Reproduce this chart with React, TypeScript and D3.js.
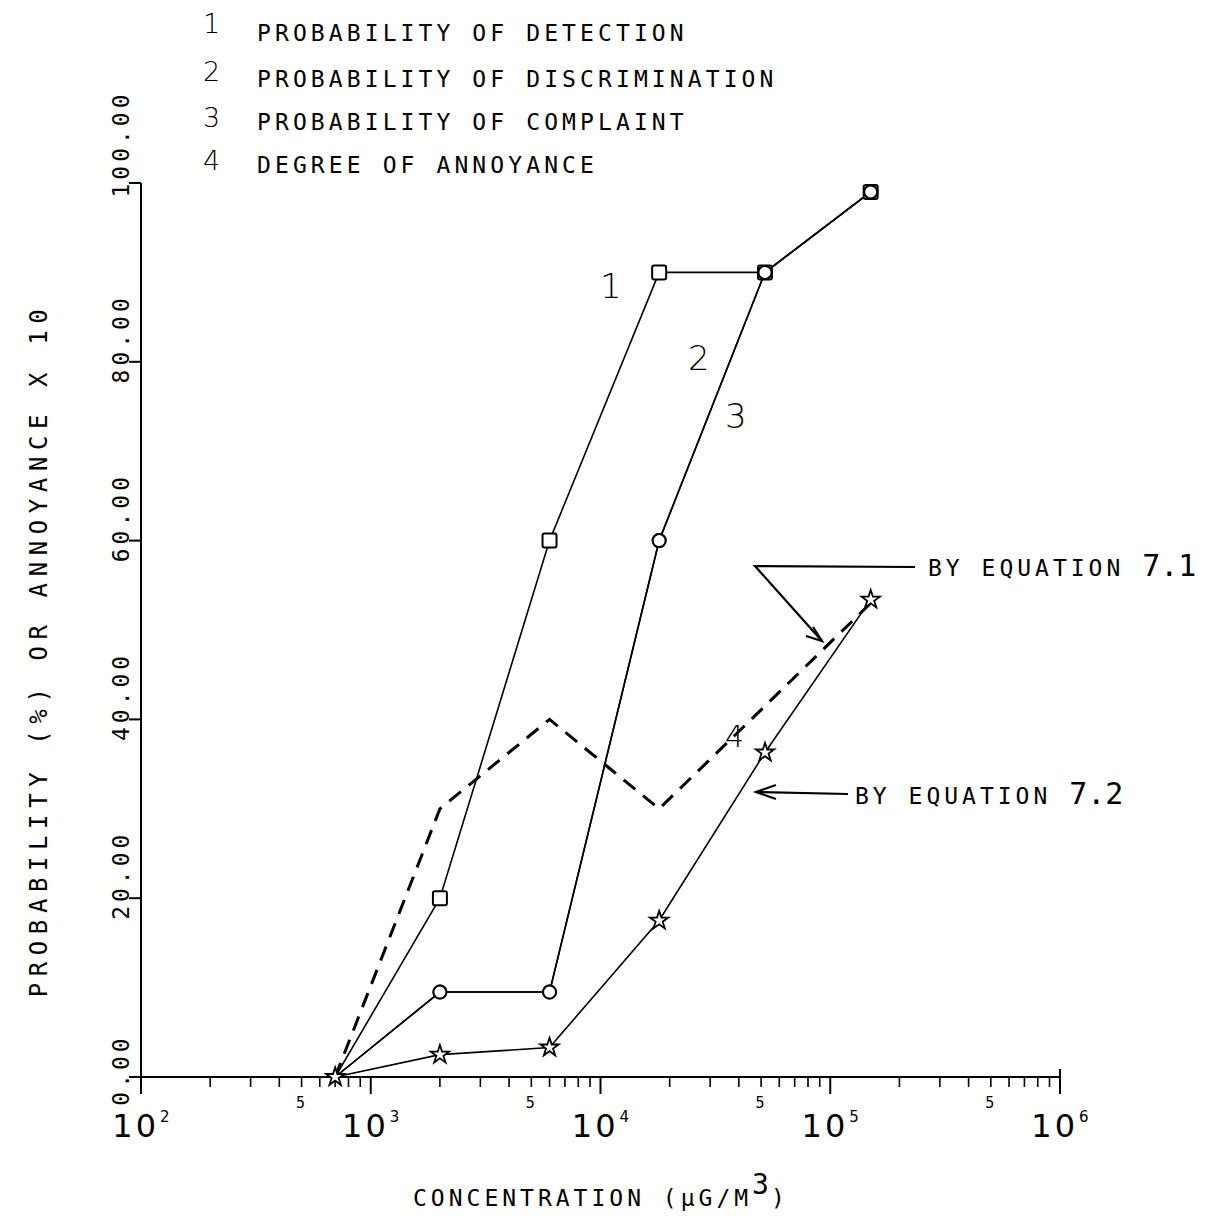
import React from "react";
import * as d3 from "d3";

// Concentrations (µg/m³) at which the responses were evaluated
const concentrations = [700, 2000, 6000, 18000, 52000, 150000];

// 1 Probability of detection (%)
const detection = [0, 20, 60, 90, 90, 99];
// 2 Probability of discrimination (%)
const discrimination = [0, 9.5, 9.5, 60, 90, 99];
// 3 Probability of complaint (%)
const complaint = [0, 9.5, 9.5, 60, 90, 99];
// 4 Degree of annoyance x 10, by equation 7.2
const annoyance = [0, 2.5, 3.3, 17.5, 36.3, 53.4];
// Degree of annoyance x 10, by equation 7.1 (dashed)
const annoyanceEq71 = [0, 30, 40, 30, 41.5, 53];

const yTicks = [0, 20, 40, 60, 80, 100];
const yTickLabels = ["0.00", "20.00", "40.00", "60.00", "80.00", "100.00"];
const xDecades = [2, 3, 4, 5, 6];
const legendItems = [
  "PROBABILITY OF DETECTION",
  "PROBABILITY OF DISCRIMINATION",
  "PROBABILITY OF COMPLAINT",
  "DEGREE OF ANNOYANCE",
];

const W = 1209;
const H = 1222;
const MONO = "'DejaVu Sans Mono', 'Liberation Mono', monospace";
const SANS = "'DejaVu Sans', sans-serif";

const x = d3.scaleLog().domain([1e2, 1e6]).range([141, 1060]);
const y = d3.scaleLinear().domain([0, 100]).range([1077, 183]);

type Pt = [number, number];
const pts = (vals: number[]): Pt[] => concentrations.map((c, i) => [c, vals[i]]);
const line = d3
  .line<Pt>()
  .x((d) => x(d[0]))
  .y((d) => y(d[1]));

const starPath = d3.symbol(d3.symbolStar, 105)() as string;

function Square({ cx, cy }: { cx: number; cy: number }) {
  return (
    <rect x={cx - 7} y={cy - 7} width={14} height={14} rx={2} fill="#fff" stroke="#000" strokeWidth={2} />
  );
}
function Circle({ cx, cy }: { cx: number; cy: number }) {
  return <circle cx={cx} cy={cy} r={6.5} fill="#fff" stroke="#000" strokeWidth={2} />;
}
function Star({ cx, cy }: { cx: number; cy: number }) {
  return <path d={starPath} transform={`translate(${cx},${cy})`} fill="#fff" stroke="#000" strokeWidth={1.8} />;
}

export default function App() {
  // minor ticks 2..9 in each decade
  const minor: number[] = [];
  for (let e = 2; e < 6; e++) for (let m = 2; m <= 9; m++) minor.push(m * Math.pow(10, e));
  const fives = [2, 3, 4, 5].map((e) => 5 * Math.pow(10, e));

  const s1 = pts(detection);
  const s2 = pts(discrimination);
  const s3 = pts(complaint);
  const s4 = pts(annoyance);
  const s5 = pts(annoyanceEq71);

  const legendBase = [41, 87, 130, 173];
  const legendNumBase = [33, 81, 127, 170];

  return (
    <svg
      width={W}
      height={H}
      viewBox={`0 0 ${W} ${H}`}
      style={{ position: "absolute", left: 0, top: 0, display: "block", background: "#fff" }}
    >
      <rect width={W} height={H} fill="#fff" />

      {/* legend */}
      <g fill="#000">
        {legendItems.map((t, i) => (
          <g key={t}>
            <text x={203} y={legendNumBase[i]} fontSize={27} fontFamily={SANS} fontWeight={300}>
              {i + 1}
            </text>
            <text x={257} y={legendBase[i]} fontSize={23} letterSpacing={4.1} fontFamily={MONO}>
              {t}
            </text>
          </g>
        ))}
      </g>

      {/* axes */}
      <g stroke="#000" strokeWidth={2} fill="none">
        <line x1={x(1e2)} y1={y(100)} x2={x(1e2)} y2={y(0) + 10} />
        <line x1={x(1e2)} y1={y(0)} x2={x(1e6)} y2={y(0)} />
        {yTicks.map((t) => (
          <line key={t} x1={x(1e2) - 12} y1={y(t)} x2={x(1e2)} y2={y(t)} />
        ))}
        {xDecades.map((e) => (
          <line key={e} x1={x(Math.pow(10, e))} y1={y(0) - (e === 6 ? 8 : 0)} x2={x(Math.pow(10, e))} y2={y(0) + 17} />
        ))}
        {minor.map((v) => (
          <line key={v} x1={x(v)} y1={y(0)} x2={x(v)} y2={y(0) + 10} strokeWidth={1.6} />
        ))}
      </g>

      {/* y tick labels */}
      <g fontFamily={MONO} fontSize={23} letterSpacing={4} fill="#000">
        {yTicks.map((t, i) => {
          const lbl = yTickLabels[i];
          const mid = y(t) - 23 - (lbl.length - 5) * 16;
          return (
            <text key={t} transform={`translate(129,${mid}) rotate(-90)`} textAnchor="middle">
              {lbl}
            </text>
          );
        })}
      </g>

      {/* y axis title */}
      <text
        transform={`translate(47,650) rotate(-90)`}
        textAnchor="middle"
        fontFamily={MONO}
        fontSize={24}
        letterSpacing={6.6}
        fill="#000"
      >
        PROBABILITY (%) OR ANNOYANCE X 10
      </text>

      {/* x tick labels */}
      <g fill="#000">
        {fives.map((v) => (
          <text key={v} x={x(v) - 1} y={y(0) + 31} fontSize={15} fontFamily={MONO} textAnchor="middle">
            5
          </text>
        ))}
        {xDecades.map((e) => (
          <text key={e} x={x(Math.pow(10, e))} y={1137} textAnchor="middle" fontSize={32} fontFamily={SANS}>
            <tspan letterSpacing={3}>10</tspan>
            <tspan fontSize={15} dy={-15} dx={1}>
              {e}
            </tspan>
          </text>
        ))}
      </g>

      {/* x axis title */}
      <text x={413} y={1206} fontFamily={MONO} fontSize={23} letterSpacing={4} fill="#000">
        CONCENTRATION (µG/M
        <tspan fontSize={28} dy={-12} letterSpacing={2}>3</tspan>
        <tspan dy={12}>)</tspan>
      </text>

      {/* series lines */}
      <g fill="none" stroke="#000">
        <path d={line(s5) as string} strokeWidth={3} strokeDasharray="15 10" />
        <path d={line(s1) as string} strokeWidth={1.6} />
        <path d={line(s2) as string} strokeWidth={1.6} />
        <path d={line(s3) as string} strokeWidth={1.6} />
        <path d={line(s4) as string} strokeWidth={1.6} />
      </g>

      {/* markers */}
      <g>
        {s1.slice(1).map((d, i) => (
          <Square key={"sq" + i} cx={x(d[0])} cy={y(d[1])} />
        ))}
        {s2.slice(1).map((d, i) => (
          <Circle key={"c2" + i} cx={x(d[0])} cy={y(d[1])} />
        ))}
        {s3.slice(1).map((d, i) => (
          <Circle key={"c3" + i} cx={x(d[0])} cy={y(d[1])} />
        ))}
        {s4.map((d, i) => (
          <Star key={"st" + i} cx={x(d[0])} cy={y(d[1])} />
        ))}
      </g>

      {/* curve labels */}
      <g fontFamily={SANS} fontWeight={300} fontSize={34} fill="#000">
        <text x={600} y={298}>1</text>
        <text x={688} y={370}>2</text>
        <text x={725} y={428}>3</text>
        <text x={725} y={747} fontSize={30}>4</text>
      </g>

      {/* annotations */}
      <g stroke="#000" strokeWidth={2.2} fill="none">
        <polyline points="915,567 755,566 822,641" />
        <polyline points="806,636 822,641 813,627" />
        <line x1={848} y1={794} x2={756} y2={792} />
        <polyline points="776,785 756,792 776,799" />
      </g>
      <g fontFamily={MONO} fill="#000">
        <text x={928} y={576} fontSize={23} letterSpacing={4}>
          BY EQUATION <tspan fontSize={30} letterSpacing={0}>7.1</tspan>
        </text>
        <text x={855} y={804} fontSize={23} letterSpacing={4}>
          BY EQUATION <tspan fontSize={30} letterSpacing={0}>7.2</tspan>
        </text>
      </g>
    </svg>
  );
}
